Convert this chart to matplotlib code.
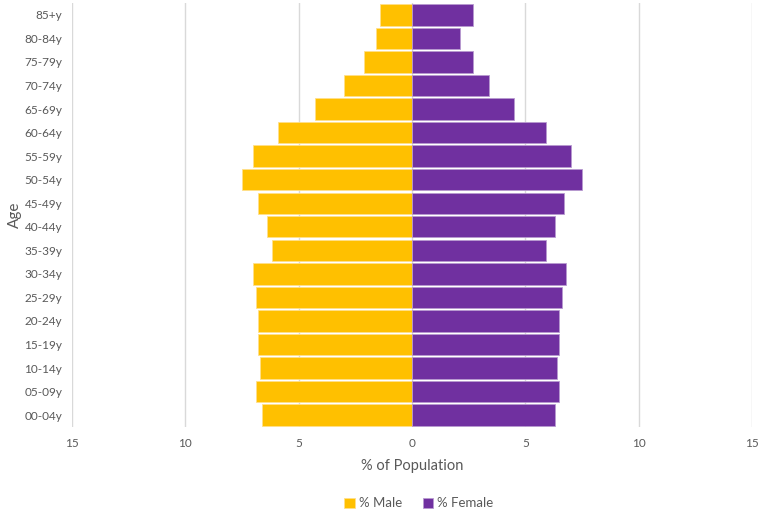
import numpy as np
import matplotlib
matplotlib.use('Agg')
import matplotlib.pyplot as plt
from matplotlib.ticker import FuncFormatter

plt.rcParams['font.family'] = ['Lato', 'DejaVu Sans']

# age groups, bottom to top
ages = ['00-04y', '05-09y', '10-14y', '15-19y', '20-24y', '25-29y', '30-34y', '35-39y', '40-44y',
        '45-49y', '50-54y', '55-59y', '60-64y', '65-69y', '70-74y', '75-79y', '80-84y', '85+y']
male = [6.6, 6.9, 6.7, 6.8, 6.8, 6.9, 7.0, 6.2, 6.4,
        6.8, 7.5, 7.0, 5.9, 4.3, 3.0, 2.1, 1.6, 1.4]
female = [6.3, 6.5, 6.4, 6.5, 6.5, 6.6, 6.8, 5.9, 6.3,
          6.7, 7.5, 7.0, 5.9, 4.5, 3.4, 2.7, 2.1, 2.7]

grey = '#595959'
male_col = '#FFC000'
female_col = '#7030A0'

fig = plt.figure(figsize=(7.62, 5.15), dpi=100)
ax = fig.add_axes([0.0945, 0.171, 0.8925, 0.823])

y = np.arange(len(ages))
ax.barh(y, [-v for v in male], height=0.91, color=male_col, edgecolor='#FFE08A', linewidth=0.6,
        label='% Male', zorder=3)
ax.barh(y, female, height=0.91, color=female_col, edgecolor='#B89AD0', linewidth=0.6,
        label='% Female', zorder=3)

ax.set_xlim(-15, 15)
ax.set_ylim(-0.5, len(ages) - 0.5)
ax.set_xticks(np.arange(-15, 16, 5))
ax.xaxis.set_major_formatter(FuncFormatter(lambda v, p: f'{abs(int(v))}'))
ax.set_yticks(y)
ax.set_yticklabels(ages)
ax.tick_params(axis='both', length=0, labelsize=8.5, colors=grey)
ax.tick_params(axis='x', pad=8)
ax.tick_params(axis='y', pad=7)
ax.grid(axis='x', color='#D9D9D9', linewidth=1, zorder=0)
for s in ax.spines.values():
    s.set_visible(False)

ax.set_xlabel('% of Population', fontsize=10.5, color=grey, labelpad=7)
ax.set_ylabel('Age', fontsize=11, color=grey)
ax.yaxis.set_label_coords(-0.074, 0.5)

ax.legend(loc='upper center', bbox_to_anchor=(0.51, -0.138), ncol=2, frameon=False,
          fontsize=9.5, labelcolor=grey, handlelength=0.8, handleheight=0.8,
          handletextpad=0.3, columnspacing=1.6)

fig.savefig('out.png', dpi=100)
